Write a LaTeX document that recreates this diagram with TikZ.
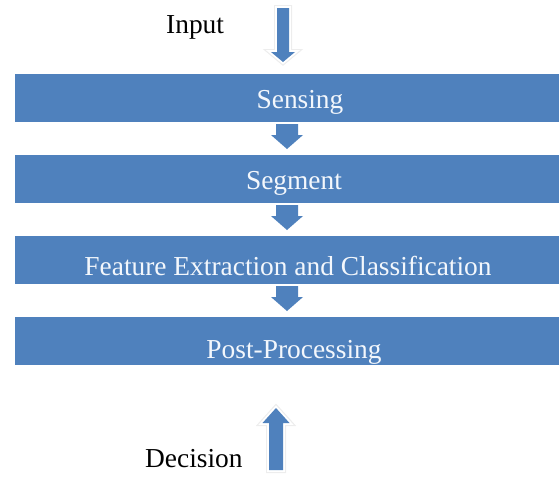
\documentclass[tikz,border=0pt]{standalone}
\usepackage{fontspec}
\setmainfont{Liberation Serif}
\usetikzlibrary{calc}
\definecolor{barblue}{HTML}{4F81BD}
\definecolor{bartxt}{HTML}{F3F7FC}
\definecolor{glow}{HTML}{EDEDED}
\tikzset{
  bar/.style={fill=barblue, draw=none, minimum width=544pt, minimum height=48pt, inner sep=0pt, outer sep=0pt},
  bartext/.style={text=bartxt, anchor=base, inner sep=0pt, font=\fontsize{27.4}{31}\selectfont},
  plaintext/.style={text=black, anchor=base west, inner sep=0pt, font=\fontsize{27.4}{31}\selectfont},
  blockarrow/.style={fill=barblue, draw=none},
  glowline/.style={draw=glow, line width=6pt, line join=miter},
  glowfill/.style={draw=white, line width=3.6pt, line join=miter, fill=white},
}
\newcommand\interarrow[2]{%
  \fill[blockarrow] ($(#1.south)+(-11,2)$) -- ($(#1.south)+(-11,13)$) -- ($(#1.south)+(-16,13)$)
    -- ($(#2.north)+(0,-6)$)
    -- ($(#1.south)+(16,13)$) -- ($(#1.south)+(11,13)$) -- ($(#1.south)+(11,2)$) -- cycle;}
\begin{document}
\begin{tikzpicture}[x=1pt,y=-1pt]
\useasboundingbox (0,0) rectangle (559,477);
% bars
\node[bar] (b1) at (287,98) {};
\node[bar] (b2) at (287,179) {};
\node[bar] (b3) at (287,260) {};
\node[bar] (b4) at (287,341) {};
% bar texts
\node[bartext] (t1) at (300,108) {Sensing};
\node[bartext] (t2) at (294,189) {Segment};
\node[bartext] (t3) at (288,275) {Feature Extraction and Classification};
\node[bartext] (t4) at (294,358) {Post-Processing};
% arrows between bars
\interarrow{b1}{b2}
\interarrow{b2}{b3}
\interarrow{b3}{b4}
% input arrow
\coordinate (inTop) at (283,8);
\coordinate (inTip) at ($(b1.north -| inTop)+(0,-12)$);
\foreach \st in {glowline,glowfill,blockarrow}{
  \path[\st] ($(inTop)+(-6,0)$) -- ($(inTip)+(-6,-10)$) -- ($(inTip)+(-12,-10)$) -- (inTip)
    -- ($(inTip)+(12,-10)$) -- ($(inTip)+(6,-10)$) -- ($(inTop)+(6,0)$) -- cycle;
}
\node[plaintext] (input) at (166,33) {Input};
% decision arrow
\coordinate (decBot) at (276,470);
\coordinate (decTip) at ($(b4.south -| decBot)+(0,43)$);
\foreach \st in {glowline,glowfill,blockarrow}{
  \path[\st] ($(decBot)+(-7,0)$) -- ($(decTip)+(-7,15)$) -- ($(decTip)+(-13.5,15)$) -- (decTip)
    -- ($(decTip)+(13.5,15)$) -- ($(decTip)+(7,15)$) -- ($(decBot)+(7,0)$) -- cycle;
}
\node[plaintext] (decision) at (145,467) {Decision};
\end{tikzpicture}
\end{document}
